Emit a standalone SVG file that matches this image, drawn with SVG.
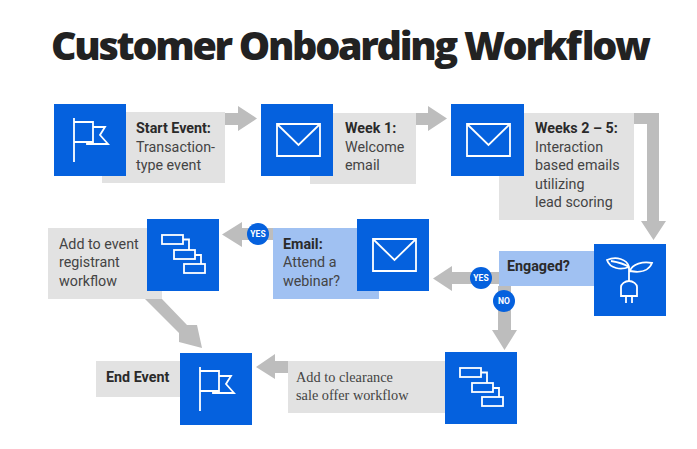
<svg xmlns="http://www.w3.org/2000/svg" width="697" height="449" viewBox="0 0 697 449">
<style>
text{font-family:Roboto,"Liberation Sans",sans-serif;font-size:14.3px;fill:#444}
.b{font-weight:700;fill:#2a2a2a}
.t{font-family:"Open Sans","Noto Sans",sans-serif;font-weight:800;font-size:39.5px;fill:#222}
.s{font-family:"Liberation Serif",serif;font-size:14.3px;fill:#444}
.g{fill:#e2e2e2}.l{fill:#a0c1f2}.q{fill:#0561de}
.a{fill:#bdbdbd}
.i{fill:none;stroke:#fff;stroke-width:1.8}
.c{font-weight:700;font-size:8.5px;fill:#fff;text-anchor:middle}
</style>
<defs>
<g id="flag" class="i"><path d="M20 14V58M20 18H39V38H20M39 23H51L46 31L54 40H33V38"/></g>
<g id="env" class="i"><path d="M16 20H59V52H16ZM16 20L37.500 41L59 20"/></g>
<g id="gantt" class="i"><rect x="15" y="16" width="21" height="9"/><rect x="27" y="31" width="21" height="9"/><rect x="37" y="45" width="21" height="9"/><path d="M36 20.500H42V31M48 36H54V45"/></g>
</defs>
<rect width="697" height="449" fill="#fff"/>
<text class="t" x="51" y="60" textLength="600" lengthAdjust="spacing">Customer Onboarding Workflow</text>
<g id="connectors">
<path class="a" d="M225 113H238V106L257 118.500L238 131V125H225Z"/>
<path class="a" d="M416 113H428V106L447 118.500L428 131V125H416Z"/>
<path class="a" d="M634 113H659V221H666L653.500 240L641 221H647V124H634Z"/>
<path class="a" d="M499 272H452V266L433 278.500L452 291V284H499Z"/>
<path class="a" d="M498 286H511V330H517L504.500 350L492 330H498Z"/>
<path class="a" d="M288 361H275V354L256 367L275 379V373H288Z"/>
<path class="a" d="M273 228H242V222L222 234.500L242 247V240H273Z"/>
<path class="a" d="M145 299H162L187 325L197 325L202 348L179 342L179 333Z"/>
</g>
<g id="n1"><rect class="g" x="102" y="112" width="123" height="71"/><rect class="q" x="54" y="104" width="72" height="72"/><use href="#flag" x="54" y="104"/>
<text x="136" y="133" class="b">Start Event:</text><text x="136" y="152">Transaction-</text><text x="136" y="170">type event</text></g>
<g id="n2"><rect class="g" x="310" y="113" width="106" height="71"/><rect class="q" x="261" y="104" width="72" height="72"/><use href="#env" x="261" y="104"/>
<text x="345" y="133" class="b">Week 1:</text><text x="345" y="152">Welcome</text><text x="345" y="170">email</text></g>
<g id="n3"><rect class="g" x="499" y="113" width="135" height="107"/><rect class="q" x="451" y="104" width="73" height="72"/><use href="#env" x="451" y="104"/>
<text x="535" y="133" class="b">Weeks 2 – 5:</text><text x="535" y="152">Interaction</text><text x="535" y="170">based emails</text><text x="535" y="189">utilizing</text><text x="535" y="207">lead scoring</text></g>
<g id="n4"><rect class="l" x="499" y="251" width="95" height="35"/><rect class="q" x="594" y="244" width="72" height="72"/>
<g class="i" transform="translate(594 244)"><path d="M13 16C22 12 33 15 35 23C27 26 16 25 13 16ZM17 17C23 18 29 19 35 23M58 19C49 17 38 20 36 27C46 29 55 27 58 19ZM35 23V37M27 52V43C27 40 31 37 35 37C39 37 43 40 43 43V52ZM32 52V59M38 52V59"/></g>
<text x="507" y="271" class="b">Engaged?</text></g>
<g id="n5"><rect class="l" x="273" y="228" width="106" height="71"/><rect class="q" x="357" y="219" width="72" height="72"/><use href="#env" x="357" y="219"/>
<text x="283" y="249" class="b">Email:</text><text x="283" y="267">Attend a</text><text x="283" y="286">webinar?</text></g>
<g id="n6"><rect class="g" x="48" y="228" width="114" height="71"/><rect class="q" x="147" y="219" width="72" height="72"/><use href="#gantt" x="147" y="219"/>
<text x="59" y="249">Add to event</text><text x="59" y="267">registrant</text><text x="59" y="286">workflow</text></g>
<g id="n7"><rect class="g" x="288" y="361" width="157" height="52"/><rect class="q" x="445" y="352" width="72" height="72"/><use href="#gantt" x="445" y="352"/>
<text x="296" y="382" class="s">Add to clearance</text><text x="296" y="400" class="s">sale offer workflow</text></g>
<g id="n8"><rect class="g" x="96" y="361" width="84" height="36"/><rect class="q" x="180" y="353" width="72" height="72"/><use href="#flag" x="180" y="353"/>
<text x="106" y="382" class="b">End Event</text></g>
<g id="yes1"><circle class="q" cx="481" cy="278" r="11"/><text class="c" x="481" y="281">YES</text></g>
<g id="no"><circle class="q" cx="504" cy="301" r="11"/><text class="c" x="504" y="304">NO</text></g>
<g id="yes2"><circle class="q" cx="258" cy="234" r="11"/><text class="c" x="258" y="237">YES</text></g>
</svg>
